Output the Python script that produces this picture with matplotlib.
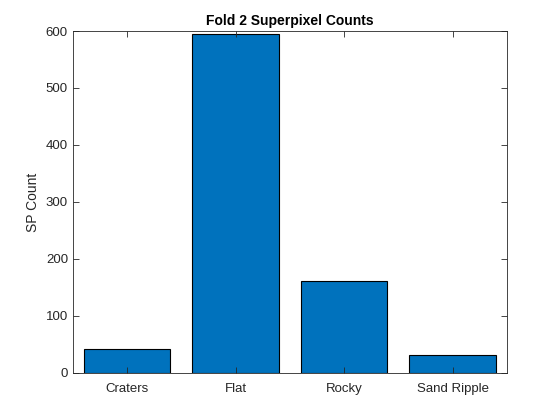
import matplotlib
matplotlib.use('Agg')
import matplotlib.pyplot as plt

plt.rcParams['font.family'] = ['Liberation Sans', 'DejaVu Sans']

categories = ['Craters', 'Flat', 'Rocky', 'Sand Ripple']
counts = [42, 594, 162, 31]

fig = plt.figure(figsize=(5.6, 4.19), dpi=100)
ax = fig.add_axes([0.130, 0.110, 0.775, 0.816])

x = range(1, len(categories) + 1)
ax.bar(x, counts, width=0.8, color='#0072BD', edgecolor='black', linewidth=0.8)

ax.set_xlim(0.5, 4.5)
ax.set_ylim(0, 600)
ax.set_xticks(list(x))
ax.set_xticklabels(categories)
ax.set_yticks(range(0, 601, 100))

ax.tick_params(direction='in', top=True, right=True, labelsize=9.5,
               colors='#262626', length=4, width=0.6)
ax.tick_params(axis='x', pad=7)
for s in ax.spines.values():
    s.set_color('#262626')
    s.set_linewidth(0.6)

ax.set_ylabel('SP Count', fontsize=10, color='#262626')
ax.set_title('Fold 2 Superpixel Counts', fontsize=10, fontweight='bold', pad=4)

fig.savefig('out.png', dpi=100)
